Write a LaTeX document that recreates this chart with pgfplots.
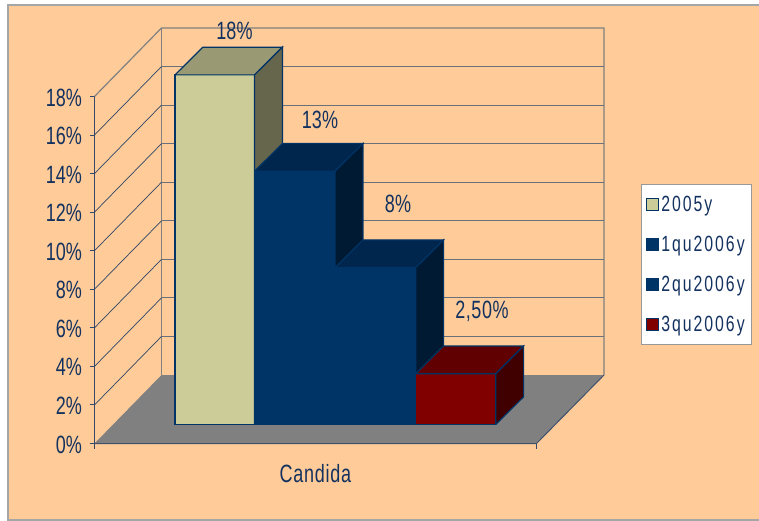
\documentclass[border=0pt]{standalone}
\usepackage{fontspec}
\usepackage{pgfplots}
\pgfplotsset{compat=1.18}
\setmainfont[FakeStretch=0.72]{Liberation Sans}

\definecolor{chartbg}{HTML}{FFCC99}
\definecolor{ink}{HTML}{14325F}
\definecolor{wallgray}{HTML}{808080}
\definecolor{edgeblue}{HTML}{003366}
\definecolor{sandF}{HTML}{CCCC99}\definecolor{sandT}{HTML}{999973}\definecolor{sandS}{HTML}{66664D}
\definecolor{navyF}{HTML}{003366}\definecolor{navyT}{HTML}{00264D}\definecolor{navyS}{HTML}{001A33}
\definecolor{wineF}{HTML}{800000}\definecolor{wineT}{HTML}{600000}\definecolor{wineS}{HTML}{400000}

% One box: left edge, right edge, value, then front, top and side colours.
% Column d is the position along the depth direction (0 front, 1 back of the box).
\newcommand\boxbar[6]{%
  \addplot[draw=edgeblue,fill=#4,line width=1.2pt,forget plot]
    table[row sep=\\,x=x,y expr=\thisrow{v}+1.12]
    {x v\\ #1 -0.135\\ #2 -0.135\\ #2 #3\\ #1 #3\\ #1 -0.135\\};
  \addplot[draw=edgeblue,fill=#5,line width=1.2pt,forget plot]
    table[row sep=\\,x expr=\thisrow{x}+27.9*\thisrow{d},y expr=\thisrow{v}+1.12+1.437*\thisrow{d}]
    {x v d\\ #1 #3 0\\ #2 #3 0\\ #2 #3 1\\ #1 #3 1\\ #1 #3 0\\};
  \addplot[draw=edgeblue,fill=#6,line width=1.2pt,forget plot]
    table[row sep=\\,x expr=\thisrow{x}+27.9*\thisrow{d},y expr=\thisrow{v}+1.12+1.437*\thisrow{d}]
    {x v d\\ #2 -0.135 0\\ #2 #3 0\\ #2 #3 1\\ #2 -0.135 1\\ #2 -0.135 0\\};
}
% One level of the wall grid: the diagonal on the left wall and the line on the back wall.
\newcommand\wallline[1]{%
  \addplot[draw=ink!75!wallgray,line width=0.7pt,forget plot]
    table[row sep=\\,x=x,y expr=\thisrow{v}+3.553*\thisrow{d}]
    {x v d\\ 94.5 #1 0\\ 161.5 #1 1\\};
  \addplot[draw=wallgray!80!ink,line width=1pt,forget plot]
    table[row sep=\\,x=x,y expr=\thisrow{v}+3.553]
    {x v\\ 161.5 #1\\ 604 #1\\};
}

\begin{document}
\begin{tikzpicture}[x=1pt,y=1pt]
  \path[use as bounding box] (0,0) rectangle (759,520);
  % page and chart area
  \fill[white] (0,0) rectangle (759,520);
  \fill[chartbg] (8,0.5) rectangle (759,514.5);
  \draw[wallgray!70!white,line width=2pt] (759,514.5) -- (8,514.5) -- (8,0.5) -- (759,0.5);
  \begin{axis}[
    at={(94.5pt,76.5pt)},anchor=south west,
    scale only axis,width=442pt,height=347.04pt,
    xmin=94.5,xmax=536.5,ymin=0,ymax=18,
    clip=false,
    axis x line*=bottom,axis y line*=left,
    axis line style={draw=ink!70!wallgray,line width=1pt,-},
    tick style={draw=ink!70!wallgray,line width=1pt},
    major tick length=5pt,
    tick align=outside,
    xtick={94.5,536.5},xticklabels={},
    ytick={0,2,...,18},
    yticklabel={\pgfmathprintnumber{\tick}\%},
    /pgf/number format/assume math mode=true,
    yticklabel style={text=ink,font=\fontsize{25}{25}\selectfont,xshift=-4pt,yshift=-1pt},
    legend style={
      at={(axis cs:696.5,9.28)},anchor=center,
      draw=wallgray!80!white,line width=1pt,fill=white,
      font=\fontsize{22}{22}\selectfont\addfontfeature{LetterSpace=9},text=ink,
      row sep=19pt,inner xsep=5pt,inner ysep=10pt,
      /tikz/every even column/.style={column sep=5pt},
    },
    legend cell align=left,
    legend image code/.code={
      \draw[#1,line width=1pt] (0pt,-6pt) rectangle (12pt,6pt);
    },
  ]
    % floor
    \addplot[fill=wallgray,draw=none,forget plot] table[row sep=\\]
      {x y\\ 94.5 0\\ 161.5 3.553\\ 604 3.553\\ 536.5 0\\ 94.5 0\\};
    \addplot[draw=ink!60!wallgray,line width=1pt,forget plot] table[row sep=\\]
      {x y\\ 94.5 0\\ 536.5 0\\ 604 3.553\\};
    % walls
    \addplot[draw=wallgray,line width=1.2pt,forget plot] table[row sep=\\]
      {x y\\ 94.5 18\\ 161.5 21.553\\ 604 21.553\\ 604 3.553\\};
    \addplot[draw=wallgray,line width=1pt,forget plot] table[row sep=\\]
      {x y\\ 161.5 21.553\\ 161.5 3.553\\};
    \wallline{2}\wallline{4}\wallline{6}\wallline{8}
    \wallline{10}\wallline{12}\wallline{14}\wallline{16}
    % bars
    \boxbar{175}{254.5}{18}{sandF}{sandT}{sandS}
    \boxbar{254.5}{335}{13}{navyF}{navyT}{navyS}
    \boxbar{335}{415.7}{8}{navyF}{navyT}{navyS}
    \boxbar{415.7}{495.7}{2.5}{wineF}{wineT}{wineS}
    % value labels
    \node[text=ink,font=\fontsize{25}{25}\selectfont] at (axis cs:234.5,21.4) {18\%};
    \node[text=ink,font=\fontsize{25}{25}\selectfont] at (axis cs:320,16.8) {13\%};
    \node[text=ink,font=\fontsize{25}{25}\selectfont] at (axis cs:398,12.45) {8\%};
    \node[text=ink,font=\fontsize{25}{25}\selectfont\addfontfeature{LetterSpace=2}] at (axis cs:482,6.85) {2,50\%};
    % category name
    \node[text=ink,font=\fontsize{25}{25}\selectfont\addfontfeature{LetterSpace=3}] at (axis cs:315.5,-1.55) {Candida};
    % legend keys
    \addlegendimage{draw=edgeblue,fill=sandF}
    \addlegendentry{2005y}
    \addlegendimage{draw=edgeblue,fill=navyF}
    \addlegendentry{1qu2006y}
    \addlegendimage{draw=edgeblue,fill=navyF}
    \addlegendentry{2qu2006y}
    \addlegendimage{draw=edgeblue,fill=wineF}
    \addlegendentry{3qu2006y}
  \end{axis}
\end{tikzpicture}
\end{document}
